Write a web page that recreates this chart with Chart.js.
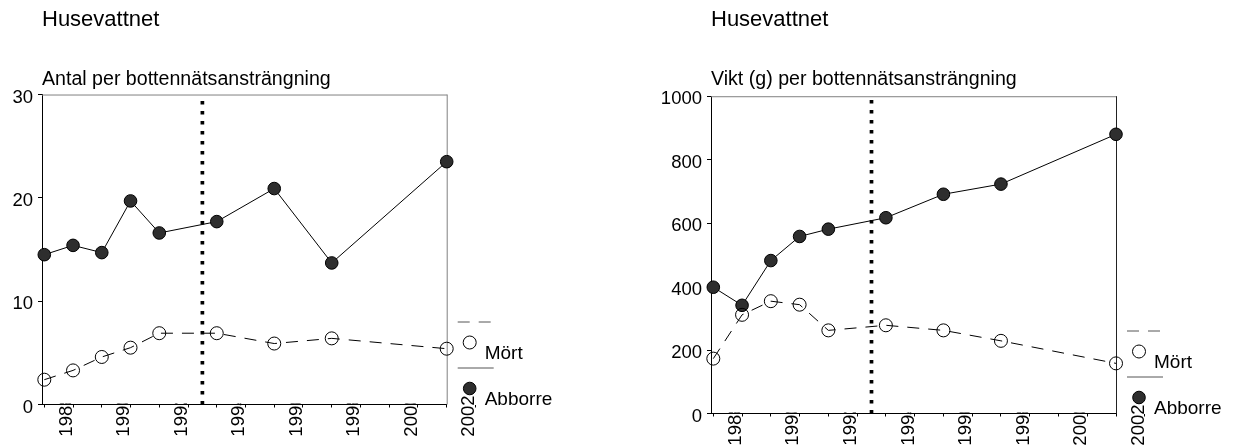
<!DOCTYPE html>
<html>
<head>
<meta charset="utf-8">
<script src="https://cdn.jsdelivr.net/npm/chart.js@4"></script>
<style>
body{margin:0;background:#fff;}
#wrap{position:relative;width:1239px;height:448px;}
.box{position:absolute;top:0;height:448px;}
</style>
</head>
<body>
<div id="wrap">
  <div class="box" style="left:0;width:620px"><canvas id="antal"></canvas></div>
  <div class="box" style="left:620px;width:619px"><canvas id="vikt"></canvas></div>
</div>
<script>
// provfiskeår
const ar = [1987, 1988, 1989, 1990, 1991, 1993, 1995, 1997, 2001];
// antal per bottennätsansträngning
const antalMort = [2.4, 3.3, 4.6, 5.5, 6.9, 6.9, 5.9, 6.4, 5.4];
const antalAbborre = [14.5, 15.4, 14.7, 19.7, 16.6, 17.7, 20.9, 13.7, 23.5];
// vikt (g) per bottennätsansträngning
const viktMort = [173, 311, 354, 343, 262, 278, 262, 229, 158];
const viktAbborre = [398, 341, 482, 558, 581, 617, 691, 723, 880];
// årtal som står under x-axeln
const arEtiketter = [1988, 1990, 1992, 1994, 1996, 1998, 2000, 2002];
// streckad lodrät linje
const kalkning = 1992.5;

Chart.defaults.font.family = '"Liberation Sans", Arial, sans-serif';
Chart.defaults.color = '#000';

// vit yta i ritytan (döljer årtalens sista siffra) + ram upptill och till höger
const ram = {
  id: 'ram',
  beforeDatasetsDraw(chart, args, opts) {
    const {ctx, chartArea: a} = chart;
    ctx.save();
    ctx.fillStyle = '#fff';
    ctx.fillRect(a.left + 1, a.top, a.right - a.left - 1, a.bottom - a.top - 1);
    ctx.lineWidth = 1;
    ctx.strokeStyle = '#808080';
    ctx.beginPath();
    ctx.moveTo(a.left, a.top + 0.5);
    ctx.lineTo(a.right + 0.5, a.top + 0.5);
    ctx.stroke();
    ctx.strokeStyle = opts.hoger || '#808080';
    ctx.beginPath();
    ctx.moveTo(a.right + 0.5, a.top);
    ctx.lineTo(a.right + 0.5, a.bottom);
    ctx.stroke();
    ctx.restore();
  }
};

// teckenförklaring i SPSS-stil: linje ovanför, symbol och namn under
const sparLegend = {
  id: 'sparLegend',
  afterDraw(chart) {
    const {ctx, chartArea: a} = chart;
    const ds = chart.data.datasets;
    const R = a.right, B = a.bottom;
    ctx.save();
    ctx.font = '19px "Liberation Sans", Arial, sans-serif';
    ctx.textBaseline = 'alphabetic';
    [[ds[0], -46], [ds[1], 0]].forEach(([d, off]) => {
      ctx.lineWidth = 1;
      ctx.strokeStyle = '#555';
      ctx.setLineDash(d.borderDash || []);
      ctx.beginPath();
      ctx.moveTo(R + 11, B + off - 36.5);
      ctx.lineTo(R + 47, B + off - 36.5);
      ctx.stroke();
      ctx.setLineDash([]);
      ctx.beginPath();
      ctx.arc(R + 23, B + off - 16, d.pointRadius, 0, 2 * Math.PI);
      ctx.fillStyle = d.pointBackgroundColor;
      ctx.fill();
      ctx.strokeStyle = '#000';
      ctx.stroke();
      ctx.fillStyle = '#000';
      ctx.fillText(d.label, R + 38, B + off);
    });
    ctx.restore();
  }
};

function ritaDiagram(id, c) {
  return new Chart(document.getElementById(id), {
    type: 'line',
    data: {
      datasets: [
        {
          label: 'Mört',
          data: ar.map((x, i) => ({x, y: c.mort[i]})),
          borderColor: '#000', borderWidth: 1, borderDash: [12, 9],
          pointRadius: 6.5, pointBackgroundColor: 'rgba(0,0,0,0)',
          pointBorderColor: '#000', pointBorderWidth: 1,
          tension: 0, clip: false
        },
        {
          label: 'Abborre',
          data: ar.map((x, i) => ({x, y: c.abborre[i]})),
          borderColor: '#000', borderWidth: 1,
          pointRadius: 6.3, pointBackgroundColor: '#2e2e2e',
          pointBorderColor: '#000', pointBorderWidth: 1,
          tension: 0, clip: false
        },
        {
          label: 'kalkning',
          data: [{x: kalkning, y: 0}, {x: kalkning, y: c.max}],
          borderColor: '#000', borderWidth: 3.7, borderDash: [3.5, 6.5],
          pointRadius: 0
        }
      ]
    },
    options: {
      responsive: true,
      maintainAspectRatio: false,
      animation: false,
      events: [],
      layout: {padding: {left: c.padLeft, right: c.padRight, top: 0, bottom: 0}},
      plugins: {
        legend: {display: false},
        tooltip: {enabled: false},
        title: {
          display: true, text: 'Husevattnet', align: 'start', fullSize: false,
          font: {size: 22, weight: 'normal'}, color: '#000',
          padding: {top: 7, bottom: 34}
        },
        subtitle: {
          display: true, text: c.rubrik, align: 'start', fullSize: false,
          font: {size: 19.6}, color: '#000',
          padding: {top: 0, bottom: c.subPad}
        },
        ram: {hoger: c.hoger}
      },
      scales: {
        x: {
          type: 'linear',
          min: 1986.92,
          max: 2001,
          afterBuildTicks: s => {
            s.ticks = [];
            for (let y = 1987; y <= 2002; y++) s.ticks.push({value: y});
          },
          afterFit: s => { s.height = c.xHeight; },
          ticks: {
            autoSkip: false,
            minRotation: 90, maxRotation: 90,
            mirror: true,
            padding: 9,
            labelOffset: 16,
            font: {size: 18.5},
            color: '#000',
            callback: v => arEtiketter.includes(v) ? String(v) : ''
          },
          grid: {drawOnChartArea: false, drawTicks: true, tickLength: 3, color: '#000'},
          border: {color: '#000', width: 1}
        },
        y: {
          min: 0,
          max: c.max,
          afterFit: s => { s.width = c.yWidth; },
          ticks: {
            stepSize: c.steg,
            padding: 5,
            font: {size: 18.5},
            color: '#000',
            labelOffset: 3,
            callback: v => String(v)
          },
          grid: {drawOnChartArea: false, drawTicks: true, tickLength: 4, color: '#000'},
          border: {color: '#000', width: 1}
        }
      }
    },
    plugins: [ram, sparLegend]
  });
}

ritaDiagram('antal', {
  mort: antalMort, abborre: antalAbborre, max: 30, steg: 10,
  rubrik: 'Antal per bottennätsansträngning',
  padLeft: 0, yWidth: 42, padRight: 173.3, xHeight: 43.5, subPad: 3.6, hoger: '#808080'
});

ritaDiagram('vikt', {
  mort: viktMort, abborre: viktAbborre, max: 1000, steg: 200,
  rubrik: 'Vikt (g) per bottennätsansträngning',
  padLeft: 41, yWidth: 50, padRight: 123, xHeight: 34.5, subPad: 5.3, hoger: '#222'
});
</script>
</body>
</html>
